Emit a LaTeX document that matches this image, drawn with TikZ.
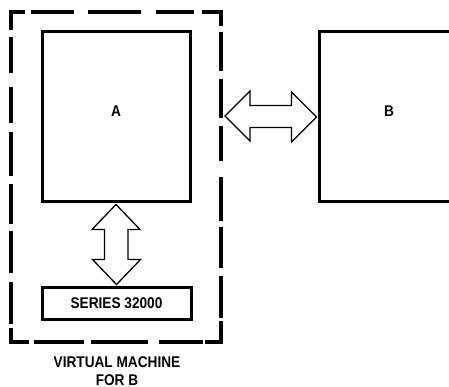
\documentclass[tikz,border=0pt]{standalone}
\usepackage{fontspec}
\setmainfont{Liberation Sans}[FakeStretch=0.88]
\usetikzlibrary{calc}
\begin{document}
\begin{tikzpicture}[x=1pt,y=-1pt,
  box/.style={draw,line width=3pt,inner sep=0pt,rectangle},
  lbl/.style={font=\fontsize{15.5}{17.5}\selectfont\bfseries},
  dsh/.style={line width=3.3pt,line cap=rect},
  fat/.style={draw,line width=1.3pt,fill=white,line join=miter}]
\useasboundingbox (0,0) rectangle (449,387);
\clip (0,0) rectangle (449,387);
% boxes
\node[box,minimum width=148pt,minimum height=170pt] (A) at (116,117) {};
\node[lbl] (Alabel) at (116,111) {A};
\node[box,minimum width=150pt,minimum height=170pt] (B) at (394,117) {};
\node[lbl] (Blabel) at (389,111) {B};
\node[box,minimum width=149pt,minimum height=32pt,lbl] (S) at (116.5,303) {SERIES 32000};
% dashed virtual machine boundary
\coordinate (vm) at (225,116);
\draw[dsh] (11,28) -- (11,12) -- (23,12);
\draw[dsh] (204,12) -- (221,12) -- (221,24);
\draw[dsh] (11,330) -- (11,342) -- (27,342);
\draw[dsh] (207,342) -- (221,342) -- (221,323);
\foreach \a/\b in {33/72,90/139,158/192} \draw[dsh] (\a,12) -- (\b,12);
\foreach \a/\b in {36/82,93/146,161/201} \draw[dsh] (\a,342) -- (\b,342);
\foreach \a/\b in {39/71,89/121,134/174,186/222,233/271,284/322} \draw[dsh] (11,\a) -- (11,\b);
\foreach \a/\b in {34/69,81/116,128/159,179/219,229/266,278/316} \draw[dsh] (221,\a) -- (221,\b);
% vertical double arrow between A and SERIES 32000
\draw[fat] ($(A.south)+(0,1)$) -- ++(24,25) -- ++(-12,0) |- ($(S.north)+(12,-26)$) -- ++(12,0)
  -- ($(S.north)+(0,-1)$) -- ++(-24,-25) -- ++(12,0) |- ($(A.south)+(-12,26)$) -- ++(-12,0) -- cycle;
% horizontal double arrow between the virtual machine and B
\draw[fat] (vm) -- ++(25,-25) -- ++(0,14.5) -| ($(B.west)+(-26,-25)$) -- ($(B.west)+(-1,0)$)
  -- ++(-25,25) -- ++(0,-14.5) -| ($(vm)+(25,25)$) -- cycle;
% caption
\node[lbl,align=center] (cap) at (117,371) {VIRTUAL MACHINE\\FOR B};
\end{tikzpicture}
\end{document}
